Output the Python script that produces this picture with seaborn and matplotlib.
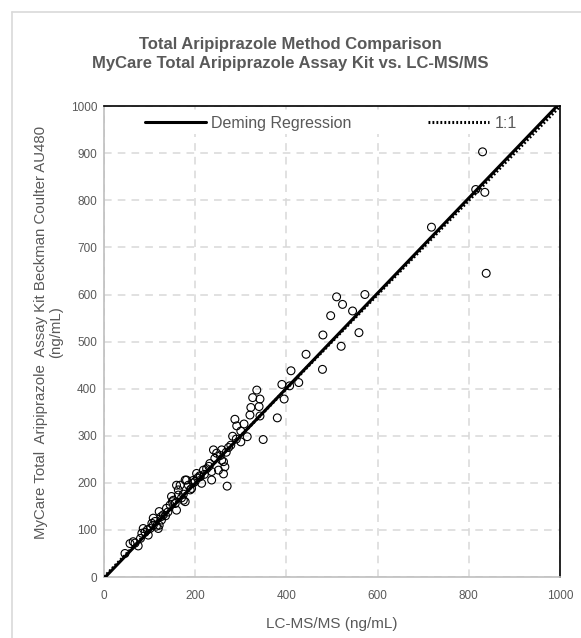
"""
Method comparison scatter: MyCare total aripiprazole kit vs LC-MS/MS.
"""

import matplotlib
matplotlib.use("Agg")
import matplotlib.pyplot as plt
import numpy as np
import pandas as pd
import seaborn as sns
from matplotlib.lines import Line2D

# ---------------------------------------------------------------------------
# Data
# ---------------------------------------------------------------------------

lcms = [
    830, 815, 835, 718, 838,
    510, 572, 523, 545, 497, 480, 559, 520, 443, 479, 410, 390, 407, 427,
    395, 380, 349, 335, 326, 342, 322, 340, 320, 342, 287, 307, 291, 314,
    300, 282,
    273, 262, 265, 262, 270, 240, 247, 258, 236, 232, 218, 203, 181, 159,
    214, 236, 174, 152, 189, 225, 251, 258, 243, 278, 290, 300, 255, 268,
    230, 210, 196,
    46, 57, 64, 75, 83, 86, 97, 105, 108, 119, 130, 137, 148, 156, 159,
    163, 178, 178, 192, 200, 121, 126, 121, 145, 163, 174, 167, 211, 101,
    108, 90, 95, 112, 115, 140, 150, 185, 80, 68, 125, 135, 170, 205, 220,
    195,
]
mycare = [
    903, 823, 817, 743, 645,
    595, 600, 579, 565, 555, 514, 519, 490, 473, 441, 438, 409, 406, 413,
    378, 338, 292, 397, 381, 378, 360, 362, 344, 342, 335, 325, 321, 298,
    287, 299,
    275, 245, 234, 219, 193, 270, 263, 270, 224, 241, 227, 220, 206, 195,
    199, 206, 163, 163, 185, 230, 227, 248, 252, 280, 293, 310, 258, 265,
    235, 215, 200,
    50, 71, 75, 66, 93, 103, 89, 114, 125, 103, 132, 146, 171, 156, 142,
    185, 160, 206, 188, 203, 110, 121, 139, 153, 174, 176, 195, 213, 103,
    110, 95, 100, 118, 108, 138, 160, 195, 82, 72, 128, 130, 168, 210, 218,
    205,
]

# Deming regression fit (slope, intercept) and line end points
deming_slope = 1.01
deming_intercept = -3.0
line_x = [0, 1000]

x_ticks = [0, 200, 400, 600, 800, 1000]
y_ticks = [0, 100, 200, 300, 400, 500, 600, 700, 800, 900, 1000]

# ---------------------------------------------------------------------------
# Plot
# ---------------------------------------------------------------------------

sns.set_theme(style="white")
plt.rcParams["font.family"] = ["Liberation Sans", "DejaVu Sans"]

TEXT = "#595959"
GRID = "#d9d9d9"
DOTTED = (0, (0.6, 0.7))

df = pd.DataFrame({"x": lcms, "y": mycare})
lines = pd.DataFrame({
    "x": line_x,
    "deming": [deming_slope * v + deming_intercept for v in line_x],
    "identity": line_x,
})

fig = plt.figure(figsize=(5.81, 6.38), dpi=100)
ax = fig.add_axes([0.179, 0.0956, 0.785, 0.738])

sns.scatterplot(data=df, x="x", y="y", ax=ax, marker="o", s=32,
                facecolor="none", edgecolor="black", linewidth=0.8,
                zorder=3, legend=False)
sns.lineplot(data=lines, x="x", y="identity", ax=ax, color="black",
             lw=2.2, linestyle=DOTTED, zorder=4)
sns.lineplot(data=lines, x="x", y="deming", ax=ax, color="black",
             lw=2.2, zorder=5)

ax.set_xlim(0, 1000)
ax.set_ylim(0, 1000)
ax.set_xticks(x_ticks)
ax.set_yticks(y_ticks)
ax.tick_params(labelsize=8.5, colors=TEXT, length=0)
ax.tick_params(axis="x", pad=9)
ax.tick_params(axis="y", pad=5)
ax.grid(True, color=GRID, linestyle=(0, (5, 4)), lw=1.1)

for side in ["left", "bottom"]:
    ax.spines[side].set_color("#bfbfbf")
    ax.spines[side].set_linewidth(1.2)
for side in ["top", "right"]:
    ax.spines[side].set_color("black")
    ax.spines[side].set_linewidth(1.2)

ax.set_xlabel("LC-MS/MS (ng/mL)", fontsize=11, color=TEXT, labelpad=11)
ax.set_ylabel("MyCare Total  Aripiprazole  Assay Kit Beckman Coulter AU480\n(ng/mL)",
              fontsize=10.8, color=TEXT, linespacing=1.05)
ax.yaxis.set_label_coords(-0.09, 0.52)

fig.text(0.5, 1 - 54 / 638,
         "Total Aripiprazole Method Comparison\n"
         "MyCare Total Aripiprazole Assay Kit vs. LC-MS/MS",
         ha="center", va="center", fontsize=12, fontweight="bold",
         color=TEXT, linespacing=1.3)

handles = [
    Line2D([], [], color="black", lw=2.2),
    Line2D([], [], color="black", lw=2.2, linestyle=DOTTED),
]
leg = ax.legend(handles, ["Deming Regression", "1:1"], ncol=2,
                loc="center left", bbox_to_anchor=(0.083, 0.964),
                frameon=True, fontsize=11.5, handlelength=3.8,
                handletextpad=0.35, columnspacing=4.8, borderpad=0.2,
                borderaxespad=0)
leg.get_frame().set_facecolor("white")
leg.get_frame().set_edgecolor("none")
leg.get_frame().set_alpha(1)
for t in leg.get_texts():
    t.set_color(TEXT)

# light chart-area border, as in the spreadsheet export
fig.add_artist(plt.Line2D([12 / 581, 12 / 581], [0, 1 - 12 / 638],
                          transform=fig.transFigure, color=GRID, lw=1.2))
fig.add_artist(plt.Line2D([12 / 581, 1], [1 - 12 / 638, 1 - 12 / 638],
                          transform=fig.transFigure, color=GRID, lw=1.2))

fig.savefig("out.png", dpi=100)
